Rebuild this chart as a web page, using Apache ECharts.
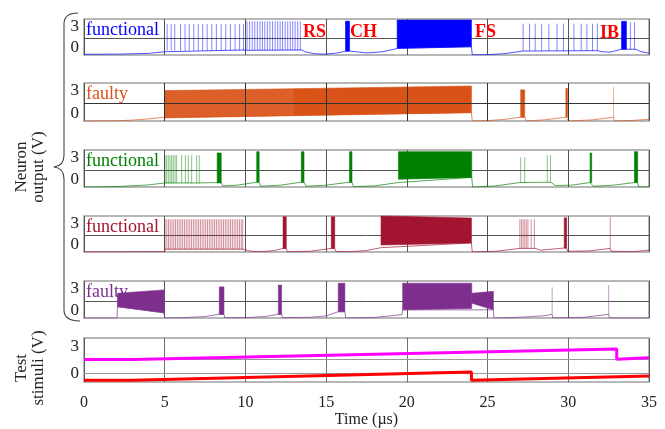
<!DOCTYPE html>
<html><head><meta charset="utf-8">
<script src="https://cdn.jsdelivr.net/npm/echarts@6/dist/echarts.min.js"></script>
<style>html,body{margin:0;padding:0;background:#fff}#c{width:665px;height:429px}</style>
</head><body><div id="c"></div>
<script>
// ---------- tick labels ----------
const timeTicks = [0, 5, 10, 15, 20, 25, 30, 35];
const yLabelValues = [3, 0];
const midLineValue = [1.3];
const stimLineValues = [1.55, 0.0];

// ---------- panel 1 : functional (blue) ----------
const base1 = [[0,-0.9],[2,-0.88],[4,-0.78],[5,-0.55],[5.1,-0.35],[9.9,-0.3],[10.05,-0.35],[13.5,-0.3],[13.7,-0.55],[14.2,-0.8],[14.8,-0.88],[15.5,-0.78],[16.2,-0.5],[16.45,-0.45],[16.55,-0.72],[17.5,-0.72],[18.5,-0.55],[19.4,-0.1],[24.0,0.15],[24.05,-0.98],[25,-0.95],[26,-0.82],[27.2,-0.45],[31.8,-0.4],[32.1,-0.55],[32.6,-0.6],[33.3,-0.2],[34.2,-0.2],[34.45,-0.5],[35,-0.75]];
const rsTimesA = [5.15,5.4,5.62,5.98,6.26,6.52,6.8,7.08,7.35,7.63,7.92,8.2,8.5,8.78,9.07,9.36,9.64,9.88];
const rsPeakA = [3.3, -0.4];
const rsTimesB = [10.1,10.26,10.42,10.58,10.74,10.9,11.05,11.2,11.36,11.52,11.68,11.84,12.0,12.15,12.3,12.46,12.62,12.78,12.93,13.08,13.24,13.4];
const rsPeakB = [3.7, -0.35];
const fsTimes1 = [27.2,27.6,27.95,28.35,28.8,29.3,29.7,30.35,30.8,31.15,31.5,31.8];
const fsPeak1 = [3.35, -0.45];
const ibTimes1 = [33.85, 34.1];
const ibPeak1 = [3.55, -0.25];
const blocks1 = [[16.2,16.45,3.7,3.7,-0.45,-0.45],[19.4,24.0,3.86,3.86,-0.05,0.15],[33.3,33.6,3.68,3.68,-0.2,-0.2]];

// ---------- panel 2 : faulty (orange) ----------
const base2 = [[0,-1],[2,-0.98],[3,-0.88],[4,-0.72],[5,-0.5],[24.0,0.1],[24.05,-1],[25,-0.95],[26,-0.8],[27.05,-0.5],[27.3,-0.5],[27.4,-1],[28.5,-0.85],[29.85,-0.5],[29.95,-0.5],[30.05,-1],[31.5,-0.85],[32.8,-0.5],[32.85,-1],[34,-0.92],[35,-0.78]];
const spikes2 = [[32.8,3.45,-0.5]];
const blocks2Light = [[5.0,13.0,3.0,3.25,-0.6,-0.3]];
const blocks2 = [[13.0,24.0,3.25,3.6,-0.3,0.1],[27.05,27.3,3.1,3.1,-0.5,-0.5],[29.85,29.95,3.3,3.3,-0.5,-0.5]];

// ---------- panel 3 : functional (green) ----------
const base3 = [[0,-1],[2,-0.95],[4,-0.72],[5,-0.45],[7.2,-0.45],[8.25,-0.4],[8.5,-0.4],[8.6,-0.85],[9.5,-0.75],[10.7,-0.35],[10.85,-0.35],[10.95,-0.9],[12.2,-0.75],[13.46,-0.35],[13.63,-0.35],[13.75,-0.9],[15,-0.75],[16.45,-0.35],[16.6,-0.35],[16.7,-0.95],[18,-0.85],[19.48,-0.4],[24.02,0.3],[24.07,-1],[25.5,-0.85],[27.0,-0.4],[28.7,-0.35],[28.95,-0.4],[29.2,-0.8],[30.2,-0.75],[31.35,-0.4],[31.45,-0.4],[31.55,-0.9],[32.8,-0.75],[34.1,-0.4],[34.3,-0.4],[34.35,-1],[35,-0.95]];
const trainTimes3 = [5.02,5.12,5.22,5.33,5.43,5.53,5.64,5.74,6.05,6.28,6.46,6.67,6.98,7.14];
const trainPeak3 = [3.3, -0.5];
const spikes3 = [[27.05,3.0,-0.4],[27.3,3.0,-0.4],[28.7,3.3,-0.35],[28.9,3.3,-0.35]];
const blocks3 = [[8.25,8.5,3.6,3.6,-0.45,-0.45],[10.7,10.85,3.77,3.77,-0.35,-0.35],[13.46,13.63,3.77,3.77,-0.35,-0.35],[16.45,16.6,3.77,3.77,-0.35,-0.35],[19.48,24.02,3.78,3.78,0.05,0.3],[31.35,31.45,3.6,3.6,-0.4,-0.4],[34.1,34.3,3.77,3.77,-0.4,-0.4]];

// ---------- panel 4 : functional (crimson) ----------
const base4 = [[0,-0.97],[5,-0.95],[5.02,-0.6],[9.85,-0.6],[10.3,-0.88],[11,-0.95],[11.8,-0.8],[12.33,-0.5],[12.53,-0.5],[12.6,-0.95],[14,-0.9],[15.32,-0.5],[15.53,-0.5],[15.6,-0.92],[16.5,-0.95],[17.5,-0.8],[18.4,-0.4],[24.0,0.26],[24.05,-1],[25.5,-0.9],[27,-0.5],[27.95,-0.5],[28.3,-0.75],[29.75,-0.45],[29.9,-0.45],[29.95,-0.9],[31.3,-0.85],[32.6,-0.5],[32.65,-0.9],[34,-0.95],[35,-0.75]];
const trainTimes4 = [5.02,5.13,5.24,5.34,5.45,5.56,5.67,5.78,5.89,6.0,6.11,6.22,6.33,6.44,6.55,6.66,6.77,6.88,6.99,7.1,7.21,7.32,7.43,7.54,7.65,7.76,7.87,7.98,8.09,8.2,8.31,8.42,8.53,8.64,8.75,8.86,8.97,9.08,9.19,9.3,9.41,9.52,9.63,9.74,9.83];
const trainPeak4 = [3.55, -0.65];
const fsTimes4 = [27.0,27.1,27.2,27.3,27.4,27.5,27.7,27.9];
const fsPeak4 = [3.55, -0.5];
const spikes4 = [[32.6,3.86,-0.5]];
const blocks4 = [[12.33,12.53,3.9,3.9,-0.5,-0.5],[15.32,15.53,3.9,3.9,-0.5,-0.5],[18.4,24.0,4.0,3.72,-0.03,0.26],[29.75,29.9,3.75,3.75,-0.45,-0.45]];

// ---------- panel 5 : faulty (purple) ----------
const base5 = [[0,-1],[2.05,-1],[2.07,0.53],[4.95,-0.3],[5.0,-1],[6,-0.97],[7.5,-0.8],[8.38,-0.5],[8.67,-0.5],[8.72,-0.95],[10,-0.95],[11.2,-0.8],[12.04,-0.5],[12.24,-0.5],[12.3,-0.95],[14,-0.9],[15.0,-0.72],[15.75,-0.15],[16.16,-0.15],[16.22,-1],[18,-0.92],[19.7,-0.55],[19.74,0.1],[25.36,0.1],[25.4,-1],[27,-0.9],[28.5,-0.7],[29.0,-0.5],[29.05,-1],[31,-0.9],[32.5,-0.5],[32.55,-1],[35,-1]];
const spikes5 = [[29.0,3.15,-0.5],[32.5,3.45,-0.5]];
const blocks5 = [[2.07,4.95,2.34,2.8,0.53,-0.3],[8.38,8.67,3.2,3.2,-0.5,-0.5],[12.04,12.24,3.45,3.45,-0.5,-0.5],[15.75,16.16,3.7,3.7,-0.15,-0.15],[19.74,24.02,3.7,3.7,0.1,0.3],[24.02,25.36,2.34,2.6,1.0,0.1]];

// ---------- test stimuli ----------
const stimMagenta = [[0,1.55],[3,1.55],[33,2.75],[33,1.58],[35,1.75]];
const stimRed = [[0,-0.8],[3,-0.8],[24,0.15],[24,-0.8],[35,-0.3]];

// ---------- layout ----------
const FONT = '"Liberation Serif", "Times New Roman", serif';
const panelTops = [19, 83, 150, 216, 281];
const panelHeights = [36, 38, 37, 36, 37];
const stimTop = 338, stimHeight = 47;

const grids = [], xAxes = [], yAxes = [], series = [];
const yFmt = v => (yLabelValues.indexOf(v) >= 0 ? String(v) : '');
const train = (times, pk) => times.map(t => [t, pk[0], pk[1]]);

function addPanel(i, color, base, spikes, blocks, lightBlocks, onTop) {
  grids.push({left: 84, right: 16, top: panelTops[i], height: panelHeights[i], show: true,
    borderColor: '#a0a0a0', borderWidth: 1.5, backgroundColor: 'rgba(0,0,0,0)'});
  xAxes.push({type: 'value', gridIndex: i, min: 0, max: 35, interval: 5,
    axisLabel: {show: false}, axisLine: {show: false}, axisTick: {show: false},
    splitLine: {show: true, lineStyle: {color: '#555', width: 1}}});
  yAxes.push({type: 'value', gridIndex: i, min: -1, max: 4, interval: 1,
    axisLabel: {formatter: yFmt, fontFamily: FONT, fontSize: 17, color: '#222', margin: 5},
    axisLine: {show: false}, axisTick: {show: false}, splitLine: {show: false}});
  const ml = midLineValue.map(v => ({yAxis: v}));
  if (onTop) timeTicks.slice(1, -1).forEach(t => ml.push({xAxis: t}));
  series.push({type: 'line', xAxisIndex: i, yAxisIndex: i, data: base, symbol: 'none', showSymbol: false,
    lineStyle: {color: color, width: 0.8, opacity: 0.85}, animation: false, silent: true, z: 2,
    markLine: {silent: true, symbol: 'none', animation: false, z: onTop ? 6 : 1, label: {show: false},
      lineStyle: {color: onTop ? '#333' : '#555', width: 1, type: 'solid'}, data: ml}});
  series.push({type: 'custom', xAxisIndex: i, yAxisIndex: i, data: spikes, encode: {x: 0, y: [1, 2]},
    animation: false, silent: true, z: 3,
    renderItem: (p, api) => {
      const a = api.coord([api.value(0), api.value(2)]);
      const b = api.coord([api.value(0), api.value(1)]);
      return {type: 'line', shape: {x1: a[0], y1: a[1], x2: b[0], y2: b[1]}, style: {stroke: color, lineWidth: 0.6, opacity: 0.8}};
    }});
  const blockSeries = (data, op) => ({type: 'custom', xAxisIndex: i, yAxisIndex: i, data: data,
    encode: {x: [0, 1], y: [2, 3, 4, 5]}, animation: false, silent: true, z: 4,
    renderItem: (p, api) => {
      const v = k => api.value(k);
      const pts = [api.coord([v(0), v(2)]), api.coord([v(1), v(3)]), api.coord([v(1), v(5)]), api.coord([v(0), v(4)])];
      return {type: 'polygon', shape: {points: pts}, style: {fill: color, stroke: color, lineWidth: 0.6, opacity: op}};
    }});
  series.push(blockSeries(blocks, 1));
  if (lightBlocks) series.push(blockSeries(lightBlocks, 0.93));
}

addPanel(0, '#0000FF', base1, [].concat(train(rsTimesA, rsPeakA), train(rsTimesB, rsPeakB), train(fsTimes1, fsPeak1), train(ibTimes1, ibPeak1)), blocks1, null, false);
addPanel(1, '#D95319', base2, spikes2, blocks2, blocks2Light, true);
addPanel(2, '#008000', base3, [].concat(train(trainTimes3, trainPeak3), spikes3), blocks3, null, false);
addPanel(3, '#A2142F', base4, [].concat(train(trainTimes4, trainPeak4), train(fsTimes4, fsPeak4), spikes4), blocks4, null, false);
addPanel(4, '#7E2F8E', base5, spikes5, blocks5, null, false);

// stimuli panel
grids.push({left: 84, right: 16, top: stimTop, height: stimHeight, show: true,
  borderColor: '#a0a0a0', borderWidth: 1.5, backgroundColor: 'rgba(0,0,0,0)'});
xAxes.push({type: 'value', gridIndex: 5, min: 0, max: 35, interval: 5,
  axisLabel: {show: true, fontFamily: FONT, fontSize: 16, color: '#222', margin: 13,
    formatter: v => (timeTicks.indexOf(v) >= 0 ? String(v) : '')},
  axisLine: {show: false}, axisTick: {show: false},
  splitLine: {show: true, lineStyle: {color: '#333', width: 0.7}},
  name: 'Time (µs)', nameLocation: 'middle', nameGap: 22,
  nameTextStyle: {fontFamily: FONT, fontSize: 16, color: '#222'}});
yAxes.push({type: 'value', gridIndex: 5, min: -1, max: 4, interval: 1,
  axisLabel: {formatter: yFmt, fontFamily: FONT, fontSize: 17, color: '#222', margin: 5},
  axisLine: {show: false}, axisTick: {show: false}, splitLine: {show: false}});
series.push({type: 'line', xAxisIndex: 5, yAxisIndex: 5, data: stimMagenta, symbol: 'none', showSymbol: false,
  lineStyle: {color: '#FF00FF', width: 3}, animation: false, silent: true, z: 3,
  markLine: {silent: true, symbol: 'none', animation: false, z: 1, label: {show: false},
    lineStyle: {color: '#999', width: 1, type: 'solid'}, data: stimLineValues.map(v => ({yAxis: v}))}});
series.push({type: 'line', xAxisIndex: 5, yAxisIndex: 5, data: stimRed, symbol: 'none', showSymbol: false,
  lineStyle: {color: '#FF0000', width: 3}, animation: false, silent: true, z: 3});

// annotations
const panelLabels = [['functional', '#0000FF'], ['faulty', '#D95319'], ['functional', '#008000'], ['functional', '#A2142F'], ['faulty', '#7E2F8E']];
const typeLabels = [['RS', 303, 32], ['CH', 350, 32], ['FS', 475, 32], ['IB', 600, 33]];
const braceStyle = {stroke: '#444', lineWidth: 1.1};
const graphic = [
  {type: 'bezierCurve', silent: true, shape: {x1: 78, y1: 13, cpx1: 64, cpy1: 13, x2: 64, y2: 24}, style: braceStyle},
  {type: 'line', silent: true, shape: {x1: 64, y1: 24, x2: 64, y2: 155}, style: braceStyle},
  {type: 'bezierCurve', silent: true, shape: {x1: 64, y1: 155, cpx1: 64, cpy1: 166, x2: 54, y2: 167}, style: braceStyle},
  {type: 'bezierCurve', silent: true, shape: {x1: 54, y1: 167, cpx1: 64, cpy1: 168, x2: 64, y2: 179}, style: braceStyle},
  {type: 'line', silent: true, shape: {x1: 64, y1: 179, x2: 64, y2: 310}, style: braceStyle},
  {type: 'bezierCurve', silent: true, shape: {x1: 64, y1: 310, cpx1: 64, cpy1: 321, x2: 80, y2: 321}, style: braceStyle},
  {type: 'text', x: 30, y: 167, rotation: Math.PI / 2, silent: true,
    style: {text: 'Neuron\noutput (V)', font: '17px ' + FONT, fill: '#222', align: 'center', verticalAlign: 'middle', lineHeight: 17}},
  {type: 'text', x: 30, y: 368, rotation: Math.PI / 2, silent: true,
    style: {text: 'Test\nstimuli (V)', font: '17px ' + FONT, fill: '#222', align: 'center', verticalAlign: 'middle', lineHeight: 17}}
];
panelLabels.forEach((l, i) => graphic.push({type: 'text', x: 86, y: panelTops[i] + 11, silent: true, z: 10,
  style: {text: l[0], font: '18px ' + FONT, fill: l[1], align: 'left', verticalAlign: 'middle'}}));
typeLabels.forEach(l => graphic.push({type: 'text', x: l[1], y: l[2], silent: true, z: 10,
  style: {text: l[0], font: 'bold 18px ' + FONT, fill: '#FF0000', align: 'left', verticalAlign: 'middle'}}));

const chart = echarts.init(document.getElementById('c'), null, {renderer: 'canvas'});
chart.setOption({animation: false, backgroundColor: '#fff', grid: grids, xAxis: xAxes, yAxis: yAxes, series: series, graphic: graphic});
</script></body></html>
